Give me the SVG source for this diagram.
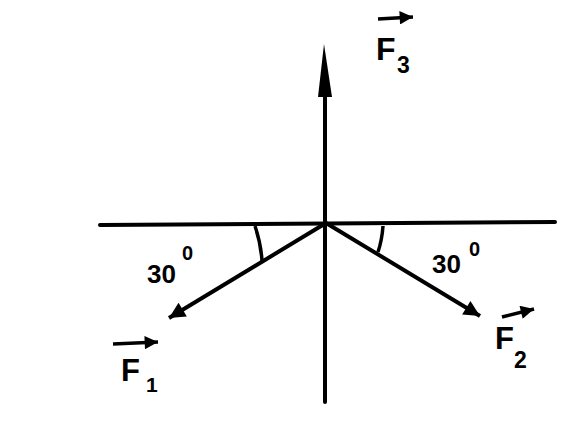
<svg xmlns="http://www.w3.org/2000/svg" width="580" height="425" viewBox="0 0 580 425">
<style>
.ax{stroke:#000;stroke-width:4;fill:none;stroke-linecap:round}
.vec{stroke:#000;stroke-width:4;fill:none}
.arc{stroke:#000;stroke-width:3.5;fill:none}
.ov{stroke:#000;stroke-width:3.5;fill:none}
.t{font-family:"Liberation Sans",Arial,sans-serif;font-weight:bold;fill:#000}
</style>
<defs>
<marker id="ah" viewBox="0 0 10 10" refX="10" refY="5" markerWidth="7.5" markerHeight="4" markerUnits="strokeWidth" orient="auto">
<path d="M0,0 L10,5 L0,10 Z" fill="#000"/>
</marker>
<marker id="sh" viewBox="0 0 10 10" refX="10" refY="5" markerWidth="4.5" markerHeight="3.8" markerUnits="strokeWidth" orient="auto">
<path d="M0,0 L10,5 L0,10 Z" fill="#000"/>
</marker>
</defs>
<rect width="580" height="425" fill="#fff"/>
<g id="connectors">
<line class="ax" x1="100" y1="225" x2="555" y2="222"/>
<line class="ax" x1="325" y1="402" x2="325" y2="90"/>
<path d="M324,44 L318,97 L332,97 Z" fill="#000"/>
<line class="vec" x1="326" y1="223" x2="169" y2="318" marker-end="url(#ah)"/>
<line class="vec" x1="326" y1="223" x2="480" y2="316" marker-end="url(#ah)"/>
<path class="arc" d="M255,226 Q261,244 262,261"/>
<path class="arc" d="M383,226 Q382,240 378,252"/>
</g>
<g id="F3">
<line class="ov" x1="378" y1="19" x2="413" y2="17" marker-end="url(#sh)"/>
<text class="t" x="376" y="60" font-size="32">F</text>
<text class="t" x="397" y="73" font-size="23">3</text>
</g>
<g id="F1">
<line class="ov" x1="113" y1="344" x2="158" y2="342" marker-end="url(#sh)"/>
<text class="t" x="121" y="381" font-size="31">F</text>
<text class="t" x="146" y="392" font-size="21">1</text>
</g>
<g id="F2">
<line class="ov" x1="502" y1="317" x2="534" y2="309" marker-end="url(#sh)"/>
<text class="t" x="495" y="349" font-size="31">F</text>
<text class="t" x="514" y="368" font-size="23">2</text>
</g>
<g id="angle1">
<text class="t" x="147" y="283" font-size="26">30</text>
<text class="t" x="182" y="260" font-size="20">0</text>
</g>
<g id="angle2">
<text class="t" x="432" y="273" font-size="26">30</text>
<text class="t" x="469" y="256" font-size="20">0</text>
</g>
</svg>
